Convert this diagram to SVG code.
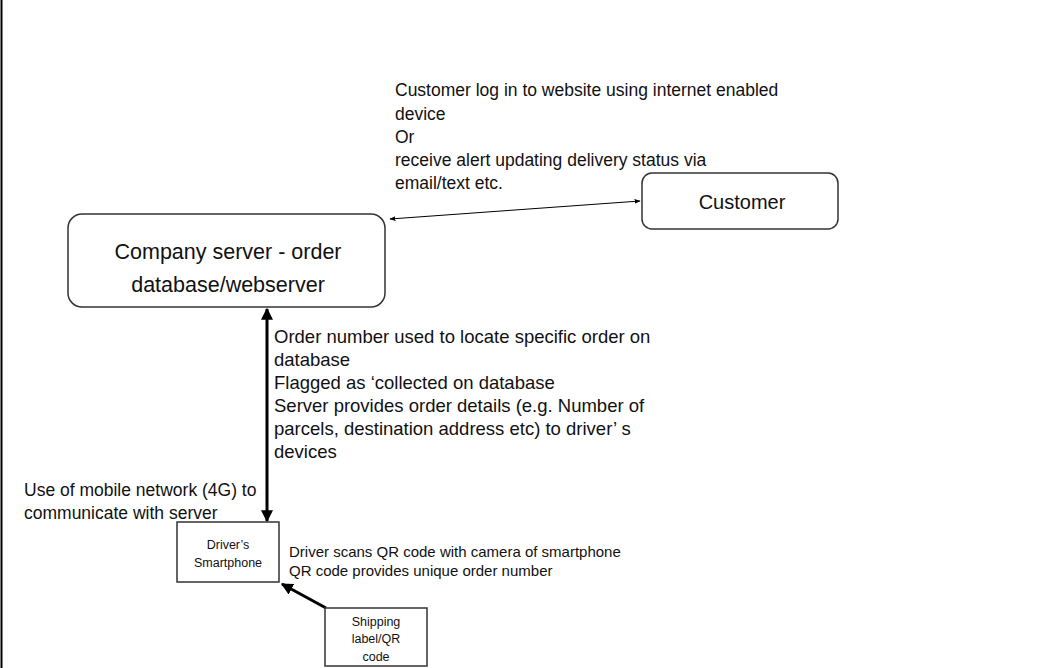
<svg xmlns="http://www.w3.org/2000/svg" width="1038" height="668" viewBox="0 0 1038 668">
<style>
text{font-family:"Liberation Sans",Arial,sans-serif;fill:#111}
.big{font-size:21.5px;text-anchor:middle}
.body{font-size:17.5px}
.ord{font-size:18.5px}
.mid{font-size:15px}
.small{font-size:12.5px;text-anchor:middle}
.box{fill:#fff;stroke:#333;stroke-width:1.5}
</style>
<defs>
<marker id="ah" viewBox="0 0 10 10" refX="9" refY="5" markerWidth="6" markerHeight="6" orient="auto-start-reverse" markerUnits="userSpaceOnUse"><path d="M0,1 L10,5 L0,9 z" fill="#000"/></marker>
<marker id="ahb" viewBox="0 0 10 10" refX="9" refY="5" markerWidth="4" markerHeight="4" orient="auto-start-reverse"><path d="M0,0 L10,5 L0,10 z" fill="#000"/></marker>
</defs>
<rect width="1038" height="668" fill="#fff"/>
<line x1="1.5" y1="0" x2="1.5" y2="668" stroke="#000" stroke-width="2"/>
<g id="connectors" fill="none" stroke="#000">
<line x1="390" y1="219" x2="640" y2="201" stroke-width="1" marker-start="url(#ah)" marker-end="url(#ah)"/>
<line x1="267" y1="309" x2="267" y2="521" stroke-width="3" marker-start="url(#ahb)" marker-end="url(#ahb)"/>
<line x1="326" y1="608" x2="282" y2="584" stroke-width="3" marker-end="url(#ahb)"/>
</g>
<g id="company">
<rect class="box" x="68" y="214" width="317" height="93" rx="14"/>
<text class="big" x="228" y="259">Company server - order</text>
<text class="big" x="228" y="292">database/webserver</text>
</g>
<g id="customer">
<rect class="box" x="642" y="173" width="196" height="56" rx="10"/>
<text class="big" x="742" y="209" style="font-size:20px">Customer</text>
</g>
<g id="smartphone">
<rect class="box" x="177" y="522" width="102" height="60"/>
<text class="small" x="228" y="549">Driver’s</text>
<text class="small" x="228" y="567">Smartphone</text>
</g>
<g id="shipping">
<rect class="box" x="325" y="608" width="102" height="58"/>
<text class="small" x="376" y="626">Shipping</text>
<text class="small" x="376" y="643">label/QR</text>
<text class="small" x="376" y="661">code</text>
</g>
<g id="labels">
<text class="body" x="395" y="96">Customer log in to website using internet enabled</text>
<text class="body" x="395" y="120">device</text>
<text class="body" x="395" y="143">Or</text>
<text class="body" x="395" y="166">receive alert updating delivery status via</text>
<text class="body" x="395" y="189">email/text etc.</text>
<text class="ord" x="274" y="343">Order number used to locate specific order on</text>
<text class="ord" x="274" y="366">database</text>
<text class="ord" x="274" y="389">Flagged as ‘collected on database</text>
<text class="ord" x="274" y="412">Server provides order details (e.g. Number of</text>
<text class="ord" x="274" y="435">parcels, destination address etc) to driver’ s</text>
<text class="ord" x="274" y="458">devices</text>
<text class="body" x="24" y="496">Use of mobile network (4G) to</text>
<text class="body" x="24" y="519">communicate with server</text>
<text class="mid" x="289" y="557">Driver scans QR code with camera of smartphone</text>
<text class="mid" x="289" y="576">QR code provides unique order number</text>
</g>
</svg>
